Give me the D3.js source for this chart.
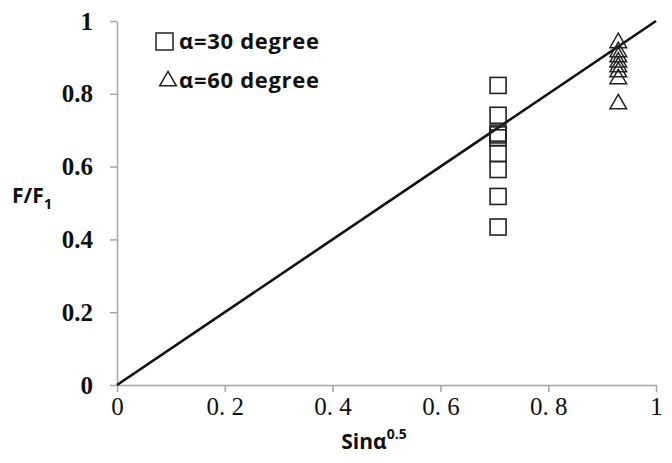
<!DOCTYPE html>
<html><head><meta charset="utf-8">
<script src="https://cdn.jsdelivr.net/npm/d3@7/dist/d3.min.js"></script>
<style>body{margin:0;background:#fff}svg{display:block}</style>
</head><body>
<svg id="c" width="672" height="463"></svg>
<script>
const xTicks = [0, 0.2, 0.4, 0.6, 0.8, 1];
const xTickLabels = ["0", "0. 2", "0. 4", "0. 6", "0. 8", "1"];
const yTicks = [0, 0.2, 0.4, 0.6, 0.8, 1];
const yTickLabels = ["0", "0.2", "0.4", "0.6", "0.8", "1"];
const x30 = 0.707;
const y30 = [0.823, 0.741, 0.692, 0.687, 0.679, 0.636, 0.592, 0.518, 0.434];
const x60 = 0.93;
const y60 = [0.940, 0.915, 0.901, 0.887, 0.874, 0.860, 0.841, 0.772];
const fitLine = [[0, 0], [1, 1]];
const legendLabels = ["α=30 degree", "α=60 degree"];

const svg = d3.select("#c");
const x = d3.scaleLinear().domain([0, 1]).range([117, 656]);
const y = d3.scaleLinear().domain([0, 1]).range([385, 21]);
const axisColor = "#a6a6a6";

// axes
const xa = svg.append("g").attr("transform", "translate(0,385)")
  .call(d3.axisBottom(x).tickValues(xTicks).tickSize(7).tickSizeOuter(0)
    .tickFormat((d, i) => xTickLabels[i]));
xa.select(".domain").attr("stroke", axisColor).attr("stroke-width", 1.5);
xa.selectAll(".tick line").attr("stroke", axisColor).attr("stroke-width", 1.5);
xa.selectAll(".tick text").attr("fill", "#111").attr("font-family", "Liberation Serif, serif")
  .attr("font-size", 25).attr("dy", "0.71em").attr("y", 12);

const ya = svg.append("g").attr("transform", "translate(117,0)")
  .call(d3.axisLeft(y).tickValues(yTicks).tickSize(7).tickSizeOuter(0)
    .tickFormat((d, i) => yTickLabels[i]));
ya.select(".domain").attr("stroke", axisColor).attr("stroke-width", 1.5);
ya.selectAll(".tick text").attr("fill", "#111").attr("font-family", "Liberation Serif, serif")
  .attr("font-weight", "bold").attr("font-size", 25).attr("x", -24);
ya.selectAll(".tick line").attr("stroke", axisColor).attr("stroke-width", 1.5);

// fit line
svg.append("path").datum(fitLine)
  .attr("d", d3.line().x(d => x(d[0])).y(d => y(d[1])))
  .attr("stroke", "#111").attr("stroke-width", 2.6).attr("fill", "none");

// squares
const sq = 16;
svg.append("g").selectAll("rect").data(y30).join("rect")
  .attr("x", x(x30) - sq / 2).attr("y", d => y(d) - sq / 2)
  .attr("width", sq).attr("height", sq)
  .attr("fill", "none").attr("stroke", "#222").attr("stroke-width", 1.6);

// triangles
const tri = d3.symbol().type(d3.symbolTriangle).size(120);
svg.append("g").selectAll("path").data(y60).join("path")
  .attr("d", tri).attr("transform", d => `translate(${x(x60)},${y(d)})`)
  .attr("fill", "none").attr("stroke", "#222").attr("stroke-width", 1.5);

// legend
const lg = svg.append("g");
lg.append("rect").attr("x", 156).attr("y", 33).attr("width", 17).attr("height", 17)
  .attr("fill", "none").attr("stroke", "#222").attr("stroke-width", 1.5);
lg.append("path").attr("d", tri).attr("transform", "translate(168,81)")
  .attr("fill", "none").attr("stroke", "#222").attr("stroke-width", 1.5);
lg.selectAll("text").data(legendLabels).join("text")
  .attr("x", 179).attr("y", (d, i) => 49 + i * 39)
  .attr("font-family", "Open Sans, sans-serif").attr("font-weight", "bold")
  .attr("font-size", 22).attr("fill", "#111").attr("textLength", 140).text(d => d);

// axis titles
const yt = svg.append("text").attr("x", 12).attr("y", 203)
  .attr("font-family", "Open Sans, sans-serif").attr("font-weight", "bold")
  .attr("font-size", 21).attr("fill", "#111");
yt.append("tspan").text("F/F");
yt.append("tspan").attr("font-size", 15).attr("dy", 6).text("1");

const xt = svg.append("text").attr("x", 374).attr("y", 449).attr("text-anchor", "middle")
  .attr("font-family", "Open Sans, sans-serif").attr("font-weight", "bold")
  .attr("font-size", 21).attr("fill", "#111");
xt.append("tspan").text("Sinα");
xt.append("tspan").attr("font-size", 14).attr("dy", -10).text("0.5");
</script>
</body></html>
